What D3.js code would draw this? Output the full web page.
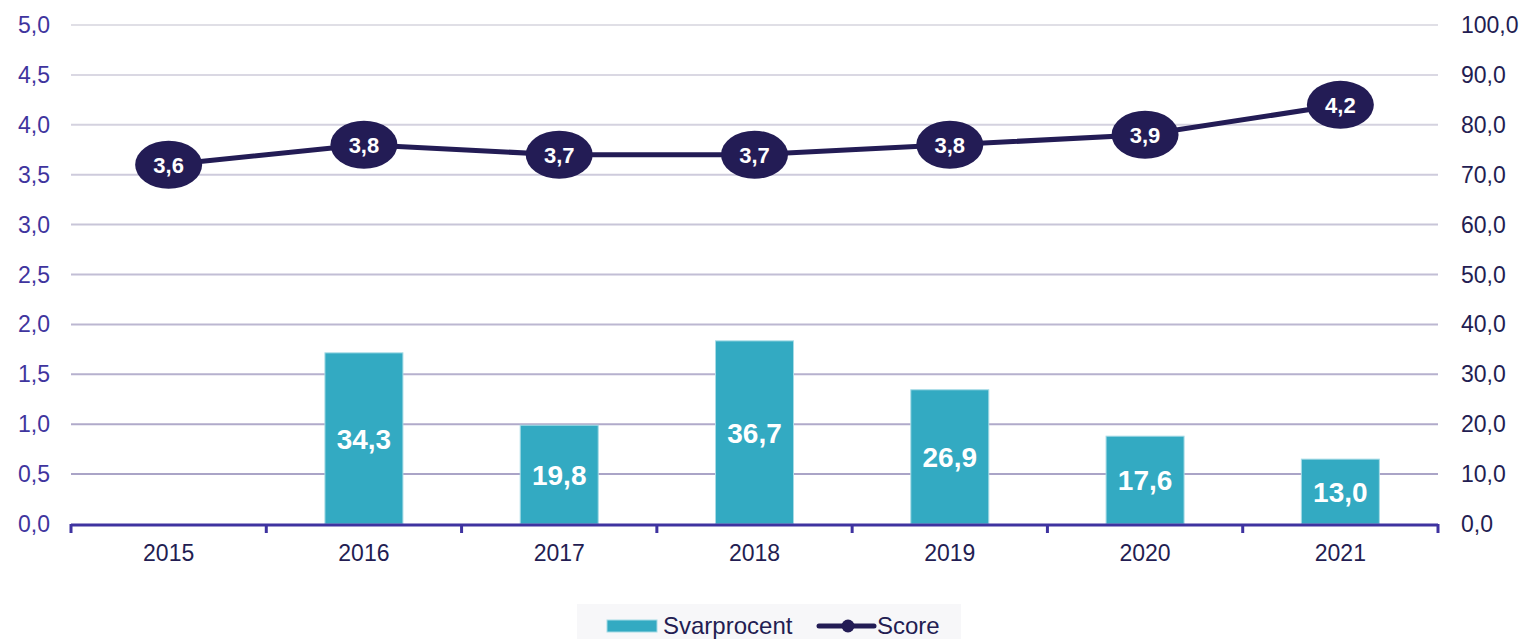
<!DOCTYPE html>
<html><head><meta charset="utf-8">
<script src="https://cdn.jsdelivr.net/npm/d3@7"></script>
<style>body{margin:0;background:#fff}svg{display:block;font-family:"Liberation Sans",Arial,sans-serif}</style>
</head><body><svg id="c" width="1527" height="639"></svg>
<script>
const years = ["2015","2016","2017","2018","2019","2020","2021"];
const svarprocent = [null,34.3,19.8,36.7,26.9,17.6,13.0];
const score = [3.6,3.8,3.7,3.7,3.8,3.9,4.2];
const leftTicks = [0,0.5,1,1.5,2,2.5,3,3.5,4,4.5,5];
const rightTicks = [0,10,20,30,40,50,60,70,80,90,100];
const seriesNames = ["Svarprocent","Score"];

const svg = d3.select("#c");
const L=71, R=1438, T=25, B=524;
const x = d3.scaleBand().domain(years).range([L,R]).paddingInner(0).paddingOuter(0);
const yL = d3.scaleLinear().domain([0,5]).range([B,T]);
const yR = d3.scaleLinear().domain([0,100]).range([B,T]);
const fmt = v => d3.format(".1f")(v).replace(".",",");
const gridColor = d3.scaleLinear().domain([5,0]).range(["#e0dfe6","#a49dc3"]);

// gridlines
svg.append("g").selectAll("line").data(leftTicks.filter(d=>d>0)).join("line")
  .attr("x1",L).attr("x2",R).attr("y1",d=>yL(d)).attr("y2",d=>yL(d))
  .attr("stroke",d=>gridColor(d)).attr("stroke-width",2);

// left axis labels
svg.append("g").selectAll("text").data(leftTicks).join("text")
  .attr("x",50).attr("y",d=>yL(d)).attr("dy","0.35em").attr("text-anchor","end")
  .attr("font-size",23).attr("fill","#3f359e").text(d=>fmt(d));
// right axis labels
svg.append("g").selectAll("text").data(rightTicks).join("text")
  .attr("x",1461).attr("y",d=>yR(d)).attr("dy","0.35em").attr("text-anchor","start")
  .attr("font-size",23).attr("fill","#231d52").text(d=>fmt(d));

// bars
const bw = 78;
const bars = svg.append("g");
years.forEach((yr,i)=>{
  const v = svarprocent[i]; if(v==null) return;
  const cx = x(yr)+x.bandwidth()/2;
  bars.append("rect").attr("x",cx-bw/2).attr("y",yR(v)).attr("width",bw).attr("height",yR(0)-yR(v))
    .attr("fill","#33aac2").attr("stroke","#a6dbe6").attr("stroke-width",1);
  bars.append("text").attr("x",cx).attr("y",(yR(v)+yR(0))/2).attr("dy","0.36em")
    .attr("text-anchor","middle").attr("font-size",28).attr("font-weight","bold").attr("fill","#fff").text(fmt(v));
});

// x axis
svg.append("line").attr("x1",L).attr("x2",R).attr("y1",B+1).attr("y2",B+1).attr("stroke","#3f33a0").attr("stroke-width",3);
const ticks = years.map(y=>x(y)).concat([R]);
svg.append("g").selectAll("line").data(ticks).join("line")
  .attr("x1",d=>d).attr("x2",d=>d).attr("y1",B).attr("y2",B+9).attr("stroke","#3f33a0").attr("stroke-width",3);
svg.append("g").selectAll("text").data(years).join("text")
  .attr("x",d=>x(d)+x.bandwidth()/2).attr("y",561).attr("text-anchor","middle")
  .attr("font-size",23).attr("fill","#231d52").text(d=>d);

// line
const line = d3.line().x((d,i)=>x(years[i])+x.bandwidth()/2).y(d=>yL(d));
svg.append("path").datum(score).attr("d",line).attr("fill","none").attr("stroke","#231c55").attr("stroke-width",5);
const pts = svg.append("g").selectAll("g").data(score).join("g")
  .attr("transform",(d,i)=>`translate(${x(years[i])+x.bandwidth()/2},${yL(d)})`);
pts.append("ellipse").attr("rx",33.5).attr("ry",24).attr("fill","#231c55");
pts.append("text").attr("text-anchor","middle").attr("dy","0.36em").attr("font-size",22)
  .attr("font-weight","bold").attr("fill","#fff").text(d=>fmt(d));

// legend
const lg = svg.append("g");
lg.append("rect").attr("x",577).attr("y",604).attr("width",384).attr("height",35).attr("fill","#f7f7f9");
lg.append("rect").attr("x",607).attr("y",620).attr("width",50).attr("height",12).attr("fill","#33aac2").attr("stroke","#a6dbe6").attr("stroke-width",1);
lg.append("text").attr("x",663).attr("y",626).attr("dy","0.35em").attr("font-size",24).attr("fill","#231d52").text(seriesNames[0]);
lg.append("line").attr("x1",819).attr("x2",874).attr("y1",626).attr("y2",626).attr("stroke","#231c55").attr("stroke-width",5).attr("stroke-linecap","round");
lg.append("circle").attr("cx",848).attr("cy",626).attr("r",6.5).attr("fill","#231c55");
lg.append("text").attr("x",877).attr("y",626).attr("dy","0.35em").attr("font-size",24).attr("fill","#231d52").text(seriesNames[1]);
</script></body></html>
